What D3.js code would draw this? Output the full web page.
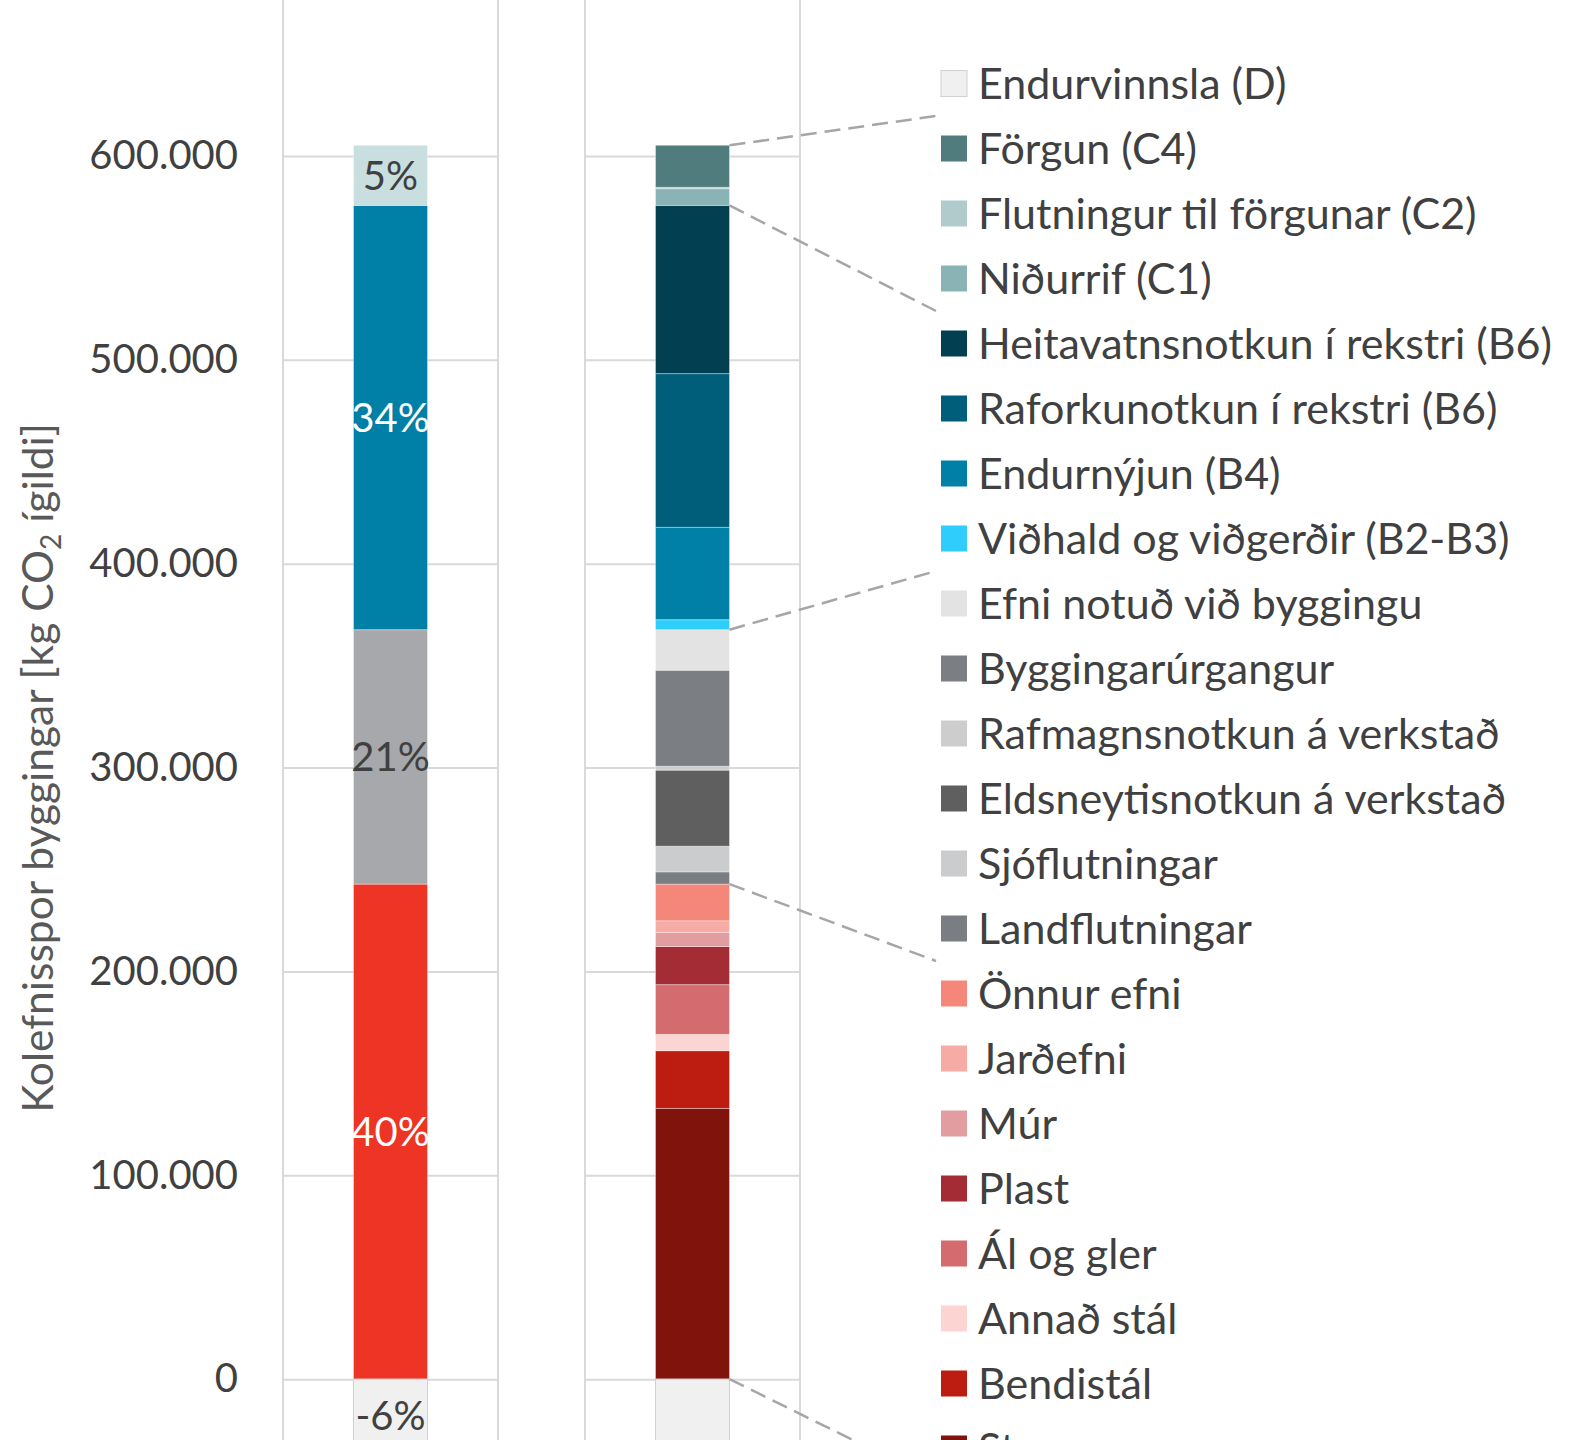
<!DOCTYPE html>
<html lang="is">
<head>
<meta charset="UTF-8">
<title>Kolefnisspor byggingar</title>
<style>
  *{ margin:0; padding:0; box-sizing:border-box }
  html, body { width:1587px; height:1440px; background:#fff; overflow:hidden; font-family:Lato, sans-serif }
  svg { position:absolute; top:0; left:0 }
  .grid line { stroke:#d9d9d9; stroke-width:2 }
  .grid .domain { display:none }
  .border { stroke:#d9d9d9; stroke-width:2 }
  .yaxis .domain { display:none }
  .yaxis text { fill:#404040; font-size:40px; font-family:Lato, sans-serif }
  .seg { stroke:#fff; stroke-opacity:0.35; stroke-width:1 }
  .pct { font-size:40px; text-anchor:middle }
  .link { stroke:#a6a6a6; stroke-width:2.5; stroke-dasharray:16 8; fill:none }
  .legend text { fill:#404040; font-size:43px }
  .ytitle { fill:#595959; font-size:42.5px }
</style>
<script src="https://cdn.jsdelivr.net/npm/d3@7/dist/d3.min.js"></script>
</head>
<body>
<svg id="chart"></svg>
<script>
  // the detailed bar, bottom of stack first
  const parts = [
    "Steypa","Bendistál","Annað stál","Ál og gler","Plast","Múr","Jarðefni","Önnur efni",
    "Landflutningar","Sjóflutningar","Eldsneytisnotkun á verkstað","Rafmagnsnotkun á verkstað",
    "Byggingarúrgangur","Efni notuð við byggingu",
    "Viðhald og viðgerðir (B2-B3)","Endurnýjun (B4)","Raforkunotkun í rekstri (B6)","Heitavatnsnotkun í rekstri (B6)",
    "Niðurrif (C1)","Flutningur til förgunar (C2)","Förgun (C4)",
    "Endurvinnsla (D)"
  ];
  const partValues = [
    132800, 28300, 8000, 24400, 18700, 6900, 5700, 18000,
    6000, 12600, 37300, 1900, 47100, 19900,
    4900, 45300, 75400, 82500,
    8200, 700, 20600,
    -36000
  ];
  const partPhase = [
    "A1-A3","A1-A3","A1-A3","A1-A3","A1-A3","A1-A3","A1-A3","A1-A3",
    "A4-A5","A4-A5","A4-A5","A4-A5","A4-A5","A4-A5",
    "B","B","B","B",
    "C","C","C",
    "D"
  ];
  const partColors = [
    "#80140d","#bd1c10","#fcd5d3","#d46b6e","#a42d35","#e19da0","#f7aba5","#f4877a",
    "#7a7d81","#cbcccd","#5f5f5f","#cdcdcd","#7b7e82","#e3e3e3",
    "#2ecdfb","#0080a6","#005e7a","#023f50",
    "#8ab3b5","#b1cbcd","#507c7e",
    "#f0f0f0"
  ];

  // the summary bar
  const phases = ["A1-A3","A4-A5","B","C","D"];
  const phaseColors = ["#ee3424","#a7a8ab","#0080a6","#c9dedf","#f0f0f0"];
  const phaseLabelColors = ["#ffffff","#404040","#ffffff","#404040","#404040"];

  const charts = ["Áfangar","Sundurliðun"];
  const yTicks = [0,100000,200000,300000,400000,500000,600000];
  const yTitle = ["Kolefnisspor byggingar [kg CO","2"," ígildi]"];

  const W = 1587, H = 1440;
  const svg = d3.select("#chart").attr("width",W).attr("height",H);

  const is = d3.formatLocale({decimal:",", thousands:".", grouping:[3], currency:["","kr."], minus:"-", percent:"%"});
  const fmtNum = is.format(",.0f"), fmtPct = is.format(".0%");

  const y = d3.scaleLinear().domain([-100000,700000]).range([1583,-48]);
  const x = d3.scaleBand().domain(charts).range([283,800]).paddingInner(0.288).paddingOuter(0);
  const inner = d3.scaleBand().domain(["bar"]).range([0,x.bandwidth()]).paddingInner(0.488).paddingOuter(0.488);

  // plot areas: gridlines + side borders
  charts.forEach(c=>{
    const g = svg.append("g").attr("class","grid").attr("transform",`translate(${x(c)},0)`);
    g.call(d3.axisLeft(y).tickValues(yTicks).tickSize(-x.bandwidth()).tickFormat(""));
    g.selectAll("line.border").data([0,x.bandwidth()]).join("line")
      .attr("class","border")
      .attr("x1",d=>d).attr("x2",d=>d)
      .attr("y1",y.range()[1]).attr("y2",y.range()[0]);
  });

  svg.append("g").attr("class","yaxis").attr("transform",`translate(${x(charts[0])},0)`)
    .call(d3.axisLeft(y).tickValues(yTicks).tickSize(0).tickPadding(45).tickFormat(fmtNum));

  // y title
  const yt = svg.append("text").attr("class","ytitle")
    .attr("text-anchor","middle")
    .attr("transform","translate(53,768) rotate(-90)");
  yt.append("tspan").text(yTitle[0]);
  yt.append("tspan").text(yTitle[1]).attr("font-size","28px").attr("dy",8);
  yt.append("tspan").text(yTitle[2]).attr("dy",-8);

  // summary bar
  const phaseSums = phases.map(p=>d3.sum(partValues.filter((v,i)=>partPhase[i]===p)));
  const grossTotal = d3.sum(phaseSums.filter(v=>v>0));
  const phaseRow = Object.fromEntries(phases.map((p,i)=>[p,phaseSums[i]]));
  const phaseStack = d3.stack().keys(phases).offset(d3.stackOffsetDiverging)([phaseRow]);
  const bx0 = x(charts[0]) + inner("bar");
  const gl = svg.append("g");
  gl.selectAll("rect").data(phaseStack).join("rect")
    .attr("class","seg")
    .attr("x",bx0).attr("width",inner.bandwidth())
    .attr("y",d=>y(Math.max(d[0][0],d[0][1])))
    .attr("height",d=>Math.abs(y(d[0][0])-y(d[0][1])))
    .attr("fill",(d,i)=>phaseColors[i])
    .style("stroke",(d,i)=>phases[i]==="D"?"#d0d0d0":null)
    .style("stroke-opacity",(d,i)=>phases[i]==="D"?1:null);
  gl.selectAll("text").data(phaseStack).join("text")
    .attr("class","pct")
    .attr("x",bx0+inner.bandwidth()/2)
    .attr("y",d=>y((d[0][0]+d[0][1])/2))
    .attr("dy","0.36em")
    .attr("fill",(d,i)=>phaseLabelColors[i])
    .text((d,i)=>fmtPct(phaseSums[i]/grossTotal));

  // detailed bar
  const partRow = Object.fromEntries(parts.map((p,i)=>[p,partValues[i]]));
  const partStack = d3.stack().keys(parts).offset(d3.stackOffsetDiverging)([partRow]);
  const bx1 = x(charts[1]) + inner("bar");
  svg.append("g").selectAll("rect").data(partStack).join("rect")
    .attr("class","seg")
    .attr("x",bx1).attr("width",inner.bandwidth())
    .attr("y",d=>y(Math.max(d[0][0],d[0][1])))
    .attr("height",d=>Math.abs(y(d[0][0])-y(d[0][1])))
    .attr("fill",(d,i)=>partColors[i])
    .style("stroke",(d,i)=>partValues[i]<0?"#d0d0d0":null)
    .style("stroke-opacity",(d,i)=>partValues[i]<0?1:null);

  // legend, top entry is the last series
  const legendOrder = parts.slice().reverse();
  const ly = d3.scaleBand().domain(legendOrder).range([51, 51+65*legendOrder.length]);
  const lg = svg.append("g").attr("class","legend");
  const rows = lg.selectAll("g").data(legendOrder).join("g")
    .attr("transform",d=>`translate(941,${ly(d)+ly.bandwidth()/2})`);
  rows.append("rect")
    .attr("x",0).attr("y",-13).attr("width",26).attr("height",26)
    .attr("fill",d=>partColors[parts.indexOf(d)])
    .attr("stroke",d=>partValues[parts.indexOf(d)]<0?"#d0d0d0":"none");
  rows.append("text").attr("x",37).attr("dy","0.36em").text(d=>d);

  // dashed links from phase boundaries to legend groups
  const links = phases.filter((p,i)=>phaseSums[i]>0).map(p=>{
    const top = d3.max(partStack.filter((s,i)=>partPhase[i]===p), s=>s[0][1]);
    const first = legendOrder.find(n=>partPhase[parts.indexOf(n)]===p);
    return {v:top, ly:ly(first)};
  });
  links.push({v:0, ly:ly.range()[1]});
  const bxr = bx1 + inner.bandwidth();
  svg.append("g").selectAll("line").data(links).join("line")
    .attr("class","link")
    .attr("x1",bxr).attr("y1",d=>y(d.v))
    .attr("x2",936).attr("y2",d=>d.ly);
</script>
</body>
</html>
